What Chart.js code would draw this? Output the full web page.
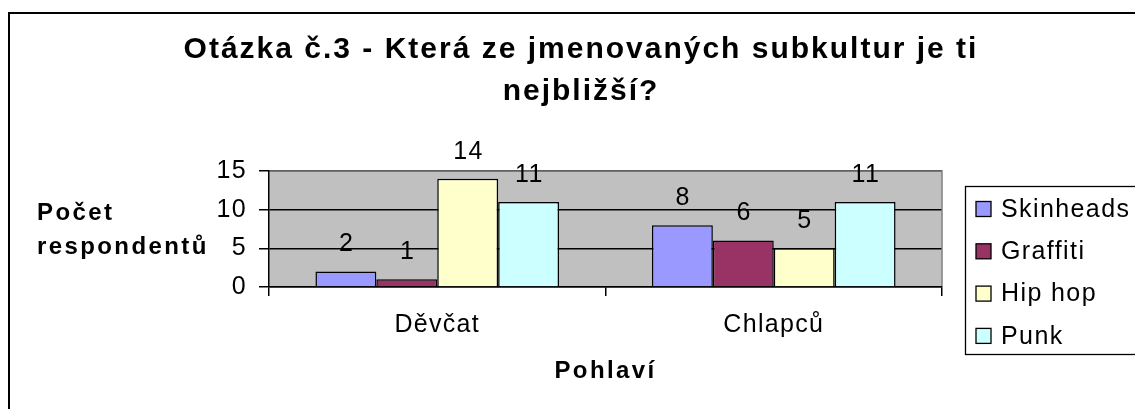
<!DOCTYPE html>
<html><head><meta charset="utf-8">
<script src="https://cdn.jsdelivr.net/npm/chart.js@4.4.1/dist/chart.umd.min.js"></script>
<style>html,body{margin:0;padding:0;background:#fff;overflow:hidden}#wrap{width:1135px;height:409px;position:relative}</style>
</head><body><div id="wrap"><canvas id="c" width="1135" height="409"></canvas></div>
<script>
const titleLines = ['Otázka č.3 - Která ze jmenovaných subkultur je ti', 'nejbližší?'];
const categories = ['Děvčat', 'Chlapců'];
const seriesNames = ['Skinheads', 'Graffiti', 'Hip hop', 'Punk'];
const skinheads = [2, 8];
const graffiti = [1, 6];
const hipHop = [14, 5];
const punk = [11, 11];
const yTicks = [0, 5, 10, 15];
const yAxisTitle = ['Počet', 'respondentů'];
const xAxisTitle = 'Pohlaví';
const colors = ['#9999FF', '#993366', '#FFFFCC', '#CCFFFF'];

const FONT = "'Liberation Sans', Arial, sans-serif";
const seriesData = [skinheads, graffiti, hipHop, punk];

function wrapSpacing(obj, method, spacing) {
  if (!obj || obj['__w_' + method]) return;
  const o = obj[method];
  obj[method] = function (...args) {
    const c = this.ctx;
    c.save();
    c.letterSpacing = spacing;
    const r = o.apply(this, args);
    c.restore();
    return r;
  };
  obj['__w_' + method] = true;
}

const deco = {
  id: 'deco',
  beforeDraw(chart) {
    const ctx = chart.ctx, a = chart.chartArea;
    ctx.letterSpacing = '1.3px';
    ctx.save();
    ctx.fillStyle = '#C0C0C0';
    ctx.fillRect(a.left, a.top, a.right - a.left, a.bottom - a.top);
    ctx.restore();
    wrapSpacing(chart.scales.x, 'drawTitle', '2.4px');
  },
  afterDatasetsDraw(chart) {
    const ctx = chart.ctx, a = chart.chartArea;
    ctx.save();
    ctx.strokeStyle = '#808080';
    ctx.lineWidth = 1.5;
    ctx.beginPath();
    ctx.moveTo(a.left + 1, a.top);
    ctx.lineTo(a.right, a.top);
    ctx.lineTo(a.right, a.bottom - 1);
    ctx.stroke();
    // data labels
    ctx.fillStyle = '#000';
    ctx.font = '25px ' + FONT;
    ctx.letterSpacing = '1.3px';
    ctx.textAlign = 'center';
    ctx.textBaseline = 'middle';
    chart.data.datasets.forEach((ds, i) => {
      const meta = chart.getDatasetMeta(i);
      meta.data.forEach((bar, j) => {
        ctx.fillText(String(ds.data[j]), bar.x + 0.7, bar.y - 27);
      });
    });
    ctx.restore();
  },
  afterDraw(chart) {
    const ctx = chart.ctx;
    ctx.save();
    ctx.fillStyle = '#000';
    // chart title
    ctx.font = 'bold 30px ' + FONT;
    ctx.letterSpacing = '2px';
    ctx.textAlign = 'center';
    ctx.textBaseline = 'middle';
    titleLines.forEach((t, i) => ctx.fillText(t, 581, 49.3 + i * 42));
    // y axis title (horizontal)
    ctx.font = 'bold 24px ' + FONT;
    ctx.letterSpacing = '2.4px';
    ctx.textAlign = 'left';
    ctx.textBaseline = 'alphabetic';
    ctx.fillText(yAxisTitle[0], 37, 220);
    ctx.fillText(yAxisTitle[1], 37, 253.5);
    // legend
    ctx.strokeStyle = '#000';
    ctx.lineWidth = 1.3;
    ctx.strokeRect(965.5, 186.5, 400, 168);
    ctx.font = '25px ' + FONT;
    ctx.letterSpacing = '1.4px';
    ctx.textBaseline = 'middle';
    chart.data.datasets.forEach((ds, i) => {
      const cy = 209 + i * 42.3;
      ctx.fillStyle = ds.backgroundColor;
      ctx.fillRect(976, cy - 7.5, 15, 15);
      ctx.strokeRect(976, cy - 7.5, 15, 15);
      ctx.fillStyle = '#000';
      ctx.fillText(ds.label, 1001, cy + 1);
    });
    // outer border
    ctx.lineWidth = 2;
    ctx.strokeRect(9, 13, 1400, 700);
    ctx.restore();
  }
};

new Chart(document.getElementById('c'), {
  type: 'bar',
  data: {
    labels: categories,
    datasets: seriesNames.map((n, i) => ({
      label: n, data: seriesData[i], backgroundColor: colors[i],
      borderColor: '#000', borderWidth: 1.5
    }))
  },
  options: {
    responsive: false, animation: false, devicePixelRatio: 1,
    layout: { padding: { left: 218, right: 193, top: 171, bottom: 0 } },
    datasets: { bar: { categoryPercentage: 0.724, barPercentage: 1 } },
    plugins: {
      legend: { display: false },
      tooltip: { enabled: false },
      title: { display: false }
    },
    scales: {
      x: {
        grid: { display: true, drawOnChartArea: false, drawTicks: true, tickLength: 9, color: '#000', lineWidth: 1.5, offset: true },
        border: { display: true, color: '#000', width: 1.5 },
        ticks: { color: '#000', font: { family: FONT, size: 25, lineHeight: 1.2 }, padding: 14, maxRotation: 0 },
        title: { display: true, text: xAxisTitle, color: '#000', font: { family: FONT, size: 24, weight: 'bold', lineHeight: 1.2 }, padding: { top: 0, bottom: 23 } },
        afterFit(s) { s.height = 122; }
      },
      y: {
        min: 0, max: 15,
        afterBuildTicks(s) { s.ticks = yTicks.map(v => ({ value: v })); },
        ticks: { color: '#000', font: { family: FONT, size: 25 }, padding: 12 },
        grid: { color: '#000', lineWidth: 1.5, tickLength: 10 },
        border: { color: '#000', width: 1.5 },
        afterFit(s) { s.width = 51; }
      }
    }
  },
  plugins: [deco]
});
</script>
</body></html>
